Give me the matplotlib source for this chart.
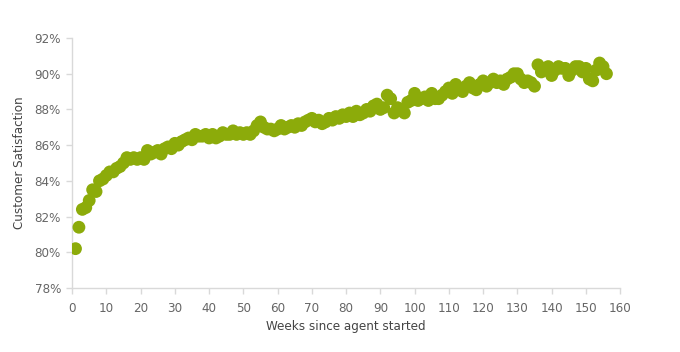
import matplotlib
matplotlib.use("Agg")
import matplotlib.pyplot as plt
from matplotlib.ticker import FuncFormatter

weeks = list(range(1, 157))
satisfaction = [
    80.2, 81.4, 82.4, 82.5, 82.9, 83.5, 83.4, 84.0, 84.1, 84.3,
    84.5, 84.5, 84.7, 84.8, 85.0, 85.3, 85.2, 85.3, 85.2, 85.3,
    85.2, 85.7, 85.5, 85.6, 85.7, 85.5, 85.8, 85.9, 85.8, 86.1,
    86.0, 86.2, 86.3, 86.4, 86.3, 86.6, 86.5, 86.5, 86.6, 86.4,
    86.6, 86.4, 86.5, 86.7, 86.6, 86.6, 86.8, 86.6, 86.7, 86.6,
    86.7, 86.6, 86.8, 87.1, 87.3, 87.0, 86.9, 86.9, 86.8, 86.9,
    87.1, 86.9, 87.0, 87.1, 87.0, 87.2, 87.1, 87.3, 87.4, 87.5,
    87.3, 87.4, 87.2, 87.3, 87.5, 87.4, 87.6, 87.5, 87.7, 87.6,
    87.8, 87.6, 87.9, 87.7, 87.8, 88.0, 87.9, 88.2, 88.3, 88.0,
    88.1, 88.8, 88.6, 87.8, 88.1, 88.0, 87.8, 88.4, 88.5, 88.9,
    88.5, 88.6, 88.7, 88.5, 88.9, 88.6, 88.6, 88.8, 89.0, 89.2,
    88.9, 89.4, 89.2, 89.0, 89.3, 89.5, 89.2, 89.1, 89.4, 89.6,
    89.3, 89.5, 89.7, 89.5, 89.6, 89.4, 89.7, 89.8, 90.0, 90.0,
    89.7, 89.5, 89.6, 89.5, 89.3, 90.5, 90.1, 90.3, 90.4, 89.9,
    90.2, 90.4, 90.3, 90.3, 89.9, 90.2, 90.4, 90.4, 90.1, 90.3,
    89.7, 89.6, 90.2, 90.6, 90.4, 90.0,
]
x_ticks = list(range(0, 161, 10))
y_ticks = [78, 80, 82, 84, 86, 88, 90, 92]

plt.rcParams['font.family'] = ['DejaVu Sans']
plt.rcParams['font.stretch'] = 'condensed'
fig = plt.figure(figsize=(6.8, 3.52), dpi=100)
ax = fig.add_axes([0.106, 0.182, 0.806, 0.710])

ax.scatter(weeks, satisfaction, s=85, color="#8cab0a", edgecolors="none", zorder=3)

ax.set_xlim(0, 160)
ax.set_ylim(78, 92)
ax.set_xticks(x_ticks)
ax.set_yticks(y_ticks)
ax.yaxis.set_major_formatter(FuncFormatter(lambda v, p: f"{v:.0f}%"))

for s in ["top", "right"]:
    ax.spines[s].set_visible(False)
for s in ["left", "bottom"]:
    ax.spines[s].set_color("#d9d9d9")
    ax.spines[s].set_linewidth(1)

ax.tick_params(axis="both", colors="#d9d9d9", labelcolor="#666666", labelsize=9.5, length=4, width=1)
ax.tick_params(axis="x", pad=6)
ax.tick_params(axis="y", pad=4)

ax.set_xlabel("Weeks since agent started", fontsize=9.5, color="#444444", labelpad=4)
ax.set_ylabel("Customer Satisfaction", fontsize=9.5, color="#444444", labelpad=6)

fig.savefig("out.png", dpi=100)
